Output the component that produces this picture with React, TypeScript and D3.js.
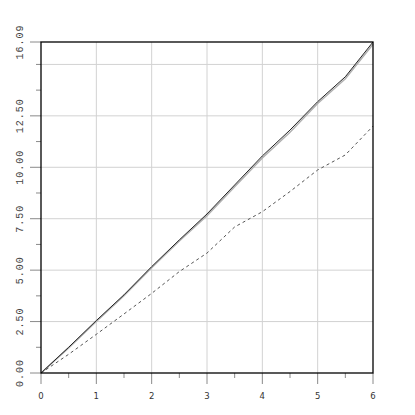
import React from 'react';
import * as d3 from 'd3';

const xs = [0, 0.5, 1, 1.5, 2, 2.5, 3, 3.5, 4, 4.5, 5, 5.5, 6];
const seriesA = [0, 1.25, 2.55, 3.8, 5.17, 6.47, 7.73, 9.14, 10.55, 11.81, 13.19, 14.4, 16.09];
const seriesB = [0, 1.22, 2.5, 3.76, 5.12, 6.42, 7.65, 9.05, 10.45, 11.7, 13.1, 14.3, 15.98];
const seriesC = [0, 0.91, 1.88, 2.87, 3.87, 4.93, 5.83, 7.1, 7.84, 8.82, 9.87, 10.6, 12.0];

const xMajor = [0, 1, 2, 3, 4, 5, 6];
const xMinor = [0.5, 1.5, 2.5, 3.5, 4.5, 5.5];
const yMajor = [0, 2.5, 5, 7.5, 10, 12.5, 16.09];
const yLabels = ['0.00', '2.50', '5.00', '7.50', '10.00', '12.50', '16.09'];
const yMinor = [1.25, 3.75, 6.25, 8.75, 11.25, 13.75, 15];
const xGrid = [1, 2, 3, 4, 5];
const yGrid = [2.5, 5, 7.5, 10, 12.5, 15];

const App = () => {
  const width = 415;
  const height = 415;
  const margin = { top: 42, right: 42, bottom: 42, left: 41 };

  const x = d3.scaleLinear().domain([0, 6]).range([margin.left, width - margin.right]);
  const y = d3.scaleLinear().domain([0, 16.09]).range([height - margin.bottom, margin.top]);

  const line = d3.line<number>()
    .x((d, i) => x(xs[i]))
    .y(d => y(d));

  const gridColor = '#d2d2d2';
  const tickColor = '#8a8a8a';
  const x0 = x(0);
  const yb = y(0);

  return (
    <svg width={width} height={height} style={{ position: 'absolute', left: 0, top: 0 }}>
      <rect width={width} height={height} fill="#fff" />
      {/* grid */}
      {xGrid.map(v => (
        <line key={'gx' + v} x1={x(v)} x2={x(v)} y1={y(16.09)} y2={yb} stroke={gridColor} strokeWidth={1} />
      ))}
      {yGrid.map(v => (
        <line key={'gy' + v} x1={x0} x2={x(6)} y1={y(v)} y2={y(v)} stroke={gridColor} strokeWidth={1} />
      ))}
      {/* ticks */}
      {xMajor.map(v => (
        <line key={'xt' + v} x1={x(v)} x2={x(v)} y1={yb} y2={yb + 11} stroke={tickColor} />
      ))}
      {xMinor.map(v => (
        <line key={'xm' + v} x1={x(v)} x2={x(v)} y1={yb} y2={yb + 5} stroke={tickColor} />
      ))}
      {yMajor.map(v => (
        <line key={'yt' + v} x1={x0 - 11} x2={x0} y1={y(v)} y2={y(v)} stroke={tickColor} />
      ))}
      {yMinor.map(v => (
        <line key={'ym' + v} x1={x0 - 5} x2={x0} y1={y(v)} y2={y(v)} stroke={tickColor} />
      ))}
      {/* labels */}
      {xMajor.map(v => (
        <text key={'xl' + v} x={x(v)} y={396} textAnchor="middle" dominantBaseline="central"
          fontFamily="DejaVu Sans" fontSize={8.5} fill="#333">{v}</text>
      ))}
      {yMajor.map((v, i) => (
        <text key={'yl' + v} transform={`translate(20,${y(v)}) rotate(-90)`} textAnchor="middle"
          dominantBaseline="central" fontFamily="Liberation Mono" fontSize={10} letterSpacing={1}
          fill="#444">{yLabels[i]}</text>
      ))}
      {/* series */}
      <path d={line(seriesB) || ''} fill="none" stroke="#b0b0b0" strokeWidth={1.5} />
      <path d={line(seriesA) || ''} fill="none" stroke="#222" strokeWidth={1} />
      <path d={line(seriesC) || ''} fill="none" stroke="#555" strokeWidth={1} strokeDasharray="3,3" />
      {/* frame */}
      <rect x={x0} y={y(16.09)} width={x(6) - x0} height={yb - y(16.09)} fill="none" stroke="#000" strokeWidth={1.3} />
    </svg>
  );
};

export default App;
